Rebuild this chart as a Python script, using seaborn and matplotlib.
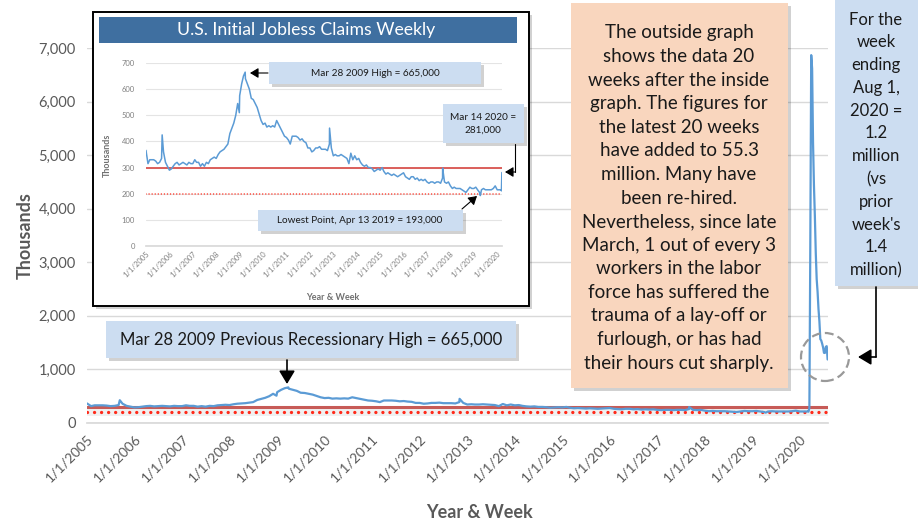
import matplotlib
matplotlib.use("Agg")
import numpy as np
import pandas as pd
import matplotlib.pyplot as plt
import matplotlib.dates as mdates
from matplotlib.ticker import FuncFormatter, MultipleLocator
from matplotlib.patches import Rectangle, Ellipse
import seaborn as sns

# initial jobless claims (thousands), read at the start of each month, Jan 2005 - Mar 2020
claims_monthly = [
    360, 315, 330, 330, 330, 325, 315, 320, 335, 360, 320, 305,   # 2005
    290, 295, 305, 315, 320, 310, 315, 320, 315, 310, 320, 315,   # 2006
    315, 330, 320, 320, 305, 315, 305, 320, 315, 330, 335, 340,   # 2007
    335, 350, 360, 365, 370, 380, 390, 430, 450, 470, 500, 545,   # 2008
    575, 620, 650, 640, 620, 600, 565, 560, 545, 530, 505, 480,   # 2009
    465, 470, 455, 460, 455, 460, 455, 480, 465, 450, 435, 420,   # 2010
    415, 405, 390, 420, 420, 420, 415, 405, 410, 400, 395, 375,   # 2011
    375, 360, 365, 375, 375, 380, 370, 370, 370, 365, 390, 375,   # 2012
    345, 350, 345, 345, 350, 345, 340, 335, 315, 355, 330, 345,   # 2013
    330, 335, 320, 310, 305, 310, 300, 300, 295, 285, 290, 295,   # 2014
    290, 300, 285, 275, 280, 275, 270, 275, 270, 265, 270, 275,   # 2015
    280, 265, 260, 255, 265, 265, 255, 260, 250, 255, 250, 255,   # 2016
    245, 240, 245, 245, 240, 245, 245, 240, 260, 245, 240, 245,   # 2017
    230, 220, 225, 220, 220, 220, 215, 210, 205, 215, 225, 220,   # 2018
    220, 225, 215, 205, 215, 220, 215, 215, 215, 215, 220, 230,   # 2019
    215, 215, 215,                                                # 2020
]

# notable single weeks
event_dates = ["2005-01-01", "2005-09-10", "2008-12-27", "2009-03-28",
               "2012-11-03", "2017-09-02", "2019-04-13"]
event_claims = [370, 425, 510, 665, 451, 298, 193]

# weekly readings, Mar 7 - Aug 1 2020
claims_2020 = [211, 281, 3307, 6867, 6615, 5237, 4442, 3867, 3176, 2687, 2446,
               2126, 1897, 1566, 1540, 1482, 1413, 1310, 1307, 1422, 1434, 1186]

high_line = 300
low_line = 200

month_dates = pd.date_range("2005-01-01", periods=len(claims_monthly), freq="MS")
week_dates = pd.date_range("2020-03-07", periods=len(claims_2020), freq="W-SAT")

df = pd.concat([
    pd.DataFrame({"date": month_dates, "claims": claims_monthly}),
    pd.DataFrame({"date": pd.to_datetime(event_dates), "claims": event_claims}),
    pd.DataFrame({"date": week_dates, "claims": claims_2020}),
]).sort_values("date").reset_index(drop=True)
inset_df = df[df["date"] <= "2020-03-14"]

W, H = 918, 521
sns.set_theme(style="white")
plt.rcParams["font.family"] = ["Lato", "DejaVu Sans"]

BLUE = "#5B9BD5"
GREY = "#595959"
GRID = "#D9D9D9"


def fx(px):
    return px / W


def fy(py):
    return 1 - py / H


def date_label(v, pos):
    d = mdates.num2date(v)
    return f"{d.month}/{d.day}/{d.year}"


fig = plt.figure(figsize=(W / 100, H / 100), dpi=100)

# ---- main chart
ax = fig.add_axes([fx(87), fy(423), fx(828) - fx(87), fy(48) - fy(423)])
ax.set_zorder(1)
ax.axhspan(140, high_line, color="#F0F0F0", lw=0, zorder=0)
sns.lineplot(data=df, x="date", y="claims", ax=ax, color=BLUE, lw=1.6, zorder=3)
ax.axhline(high_line, color="#C75B57", lw=2.2, zorder=2)
ax.axhline(low_line, color="#FF2A1A", lw=2.4, ls=(0, (0.01, 2.1)),
           dash_capstyle="round", zorder=2)
ax.set_xlim(pd.Timestamp("2005-01-01"), pd.Timestamp("2020-08-04"))
ax.set_ylim(0, 7000)
ax.yaxis.set_major_locator(MultipleLocator(1000))
ax.yaxis.set_major_formatter(FuncFormatter(lambda v, p: f"{v:,.0f}"))
ax.xaxis.set_major_locator(mdates.YearLocator())
ax.xaxis.set_major_formatter(FuncFormatter(date_label))
ax.grid(axis="y", color=GRID, lw=1)
for s in ["top", "right", "left"]:
    ax.spines[s].set_visible(False)
ax.spines["bottom"].set_color(GRID)
ax.tick_params(axis="x", length=5, color=GRID, labelsize=10, labelcolor=GREY, pad=2)
ax.tick_params(axis="y", length=0, labelsize=10.5, labelcolor=GREY, pad=8)
plt.setp(ax.get_xticklabels(), rotation=45, ha="right", rotation_mode="anchor")
ax.set_xlabel("")
ax.set_ylabel("")
fig.text(fx(25), fy(236), "Thousands", rotation=90, ha="center", va="center",
         fontsize=13, fontweight="bold", color=GREY)
fig.text(fx(480), fy(512), "Year & Week", ha="center", va="center",
         fontsize=13, fontweight="bold", color=GREY)


def box(x0, y0, x1, y1, color, z, shadow=True, edge="none", lw=0):
    if shadow:
        fig.add_artist(Rectangle((fx(x0 + 3), fy(y1 + 3)), fx(x1 - x0), fy(y0) - fy(y1),
                                 transform=fig.transFigure, facecolor="#000000",
                                 alpha=0.18, lw=0, zorder=z))
    fig.add_artist(Rectangle((fx(x0), fy(y1)), fx(x1 - x0), fy(y0) - fy(y1),
                             transform=fig.transFigure, facecolor=color,
                             edgecolor=edge, lw=lw, zorder=z))


def arrow(pts, z, lw=1.0, head=6):
    xs = [fx(p[0]) for p in pts]
    ys = [fy(p[1]) for p in pts]
    if len(pts) > 2:
        fig.add_artist(plt.Line2D(xs[:-1], ys[:-1], transform=fig.transFigure,
                                  color="black", lw=lw, zorder=z))
    fig.add_artist(matplotlib.patches.FancyArrowPatch(
        (xs[-2], ys[-2]), (xs[-1], ys[-1]), transform=fig.transFigure,
        arrowstyle=f"-|>,head_length={head * 0.1:.2f},head_width={head * 0.06:.2f}",
        color="black", lw=lw, mutation_scale=10, shrinkA=0, shrinkB=0, zorder=z))


# main annotations
box(106, 321, 516, 358, "#CCDDF1", 4)
fig.text(fx(311), fy(340), "Mar 28 2009 Previous Recessionary High = 665,000",
         ha="center", va="center", fontsize=12, color="#1a1a1a", zorder=5)
arrow([(287, 360), (287, 384)], 5, lw=1.2, head=8)

box(571, 3, 788, 388, "#F9D6BE", 4)
fig.text(fx(679), fy(198),
         "The outside graph\nshows the data 20\nweeks after the inside\n"
         "graph. The figures for\nthe latest 20 weeks\nhave added to 55.3\n"
         "million. Many have\nbeen re-hired.\nNevertheless, since late\n"
         "March, 1 out of every 3\nworkers in the labor\nforce has suffered the\n"
         "trauma of a lay-off or\nfurlough, or has had\ntheir hours cut sharply.",
         ha="center", va="center", fontsize=13.5, linespacing=1.47,
         color="#1a1a1a", zorder=5)

box(835, -5, 925, 286, "#CCDDF1", 4)
fig.text(fx(876), fy(145),
         "For the\nweek\nending\nAug 1,\n2020 =\n1.2\nmillion\n(vs\nprior\nweek's\n1.4\nmillion)",
         ha="center", va="center", fontsize=12, linespacing=1.52,
         color="#1a1a1a", zorder=5)
arrow([(876, 287), (876, 357), (858, 357)], 5, lw=1.2, head=8)
fig.add_artist(Ellipse((fx(825), fy(357)), fx(48), 48 / H, transform=fig.transFigure,
                       fill=False, edgecolor="#999999", lw=1.6, ls=(0, (4, 2)), zorder=5))

# ---- inset chart
box(93, 12, 529, 306, "white", 2, edge="black", lw=1.4)
box(99, 17, 517, 43, "#3F6FA0", 2, shadow=False)
fig.text(fx(306), fy(30.5), "U.S. Initial Jobless Claims Weekly", ha="center",
         va="center", fontsize=12.7, color="white", zorder=3)

ins = fig.add_axes([fx(146), fy(246), fx(502) - fx(146), fy(63) - fy(246)])
ins.set_zorder(3)
ins.patch.set_alpha(0)
sns.lineplot(data=inset_df, x="date", y="claims", ax=ins, color=BLUE, lw=1.1, zorder=3)
ins.axhline(high_line, color="#D9534F", lw=1.3, zorder=2)
ins.axhline(low_line, color="#FF2A1A", lw=1.1, ls=(0, (0.01, 2.0)),
            dash_capstyle="round", zorder=2)
ins.set_xlim(pd.Timestamp("2005-01-01"), pd.Timestamp("2020-03-16"))
ins.set_ylim(0, 700)
ins.yaxis.set_major_locator(MultipleLocator(100))
ins.xaxis.set_major_locator(mdates.YearLocator())
ins.xaxis.set_major_formatter(FuncFormatter(date_label))
ins.grid(axis="y", color="#E4E4E4", lw=0.8)
for s in ["top", "right", "left"]:
    ins.spines[s].set_visible(False)
ins.spines["bottom"].set_color(GRID)
ins.tick_params(axis="x", length=2, color=GRID, labelsize=5.5, labelcolor="#808080", pad=1)
ins.tick_params(axis="y", length=0, labelsize=5.5, labelcolor="#808080", pad=8)
plt.setp(ins.get_xticklabels(), rotation=45, ha="right", rotation_mode="anchor")
ins.set_xlabel("")
ins.set_ylabel("")
fig.text(fx(107), fy(155), "Thousands", rotation=90, ha="center", va="center",
         fontsize=6.5, fontweight="bold", color="#707070", zorder=3)
fig.text(fx(333), fy(297), "Year & Week", ha="center", va="center",
         fontsize=6.5, fontweight="bold", color="#707070", zorder=3)

box(269, 62, 481, 84, "#CCDDF1", 4)
fig.text(fx(375), fy(73), "Mar 28 2009 High = 665,000", ha="center", va="center",
         fontsize=7.2, color="#1a1a1a", zorder=5)
arrow([(268, 73), (250, 73)], 5, lw=0.8, head=5)

box(443, 104, 524, 143, "#CCDDF1", 4)
fig.text(fx(483), fy(124), "Mar 14 2020 =\n281,000", ha="center", va="center",
         fontsize=7.2, linespacing=1.5, color="#1a1a1a", zorder=5)
arrow([(515, 144), (515, 172), (505, 172)], 5, lw=0.8, head=5)

box(258, 210, 463, 231, "#CCDDF1", 4)
fig.text(fx(360), fy(220.5), "Lowest Point, Apr 13 2019 = 193,000", ha="center",
         va="center", fontsize=7.2, color="#1a1a1a", zorder=5)
arrow([(462, 209), (477, 196)], 5, lw=0.8, head=5)

fig.savefig("out.png", dpi=100)
